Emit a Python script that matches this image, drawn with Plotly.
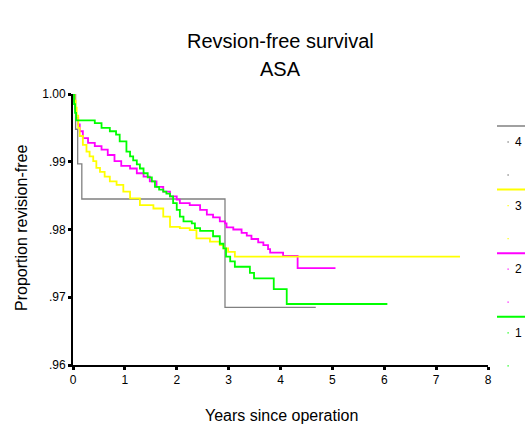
import plotly.graph_objects as go

# Kaplan-Meier revision-free survival by ASA grade (step points: time in years, survival)
asa4_t = [0, 0.05, 0.09, 0.17, 2.93, 4.68]
asa4_s = [1.0, 0.9948, 0.9897, 0.9845, 0.9685, 0.9685]

asa3_t = [0, 0.03, 0.05, 0.07, 0.10, 0.13, 0.19, 0.26, 0.32, 0.39, 0.45, 0.52, 0.61,
          0.71, 0.84, 0.97, 1.10, 1.29, 1.55, 1.74, 1.87, 2.06, 2.25, 2.38, 2.64,
          2.83, 2.90, 2.99, 3.12, 7.46]
asa3_s = [1.0, 0.9990, 0.9980, 0.9968, 0.9950, 0.9938, 0.9925, 0.9915, 0.9908, 0.9901,
          0.9891, 0.9885, 0.9878, 0.9871, 0.9866, 0.9856, 0.9846, 0.9836, 0.9831,
          0.9819, 0.9804, 0.9802, 0.9799, 0.9787, 0.9782, 0.9777, 0.9772, 0.9767,
          0.9760, 0.9760]

asa2_t = [0, 0.02, 0.04, 0.06, 0.10, 0.13, 0.19, 0.29, 0.42, 0.55, 0.67, 0.80, 0.93,
          1.10, 1.23, 1.36, 1.48, 1.61, 1.74, 1.87, 2.00, 2.06, 2.25, 2.45, 2.58,
          2.70, 2.83, 2.93, 2.96, 3.09, 3.25, 3.35, 3.44, 3.57, 3.67, 3.76, 3.80,
          4.05, 4.33, 5.06]
asa2_s = [1.0, 0.9990, 0.9978, 0.9965, 0.9955, 0.9945, 0.9935, 0.9928, 0.9923, 0.9918,
          0.9910, 0.9901, 0.9894, 0.9890, 0.9883, 0.9878, 0.9871, 0.9863, 0.9856,
          0.9849, 0.9844, 0.9839, 0.9836, 0.9829, 0.9822, 0.9818, 0.9812, 0.9809,
          0.9803, 0.9800, 0.9795, 0.9791, 0.9786, 0.9781, 0.9777, 0.9771, 0.9766,
          0.9761, 0.9743, 0.9743]

asa1_t = [0, 0.02, 0.04, 0.06, 0.42, 0.55, 0.71, 0.83, 0.90, 1.03, 1.10, 1.16, 1.23,
          1.29, 1.36, 1.44, 1.52, 1.58, 1.66, 1.74, 1.80, 1.87, 1.93, 2.00, 2.06,
          2.13, 2.29, 2.35, 2.45, 2.70, 2.83, 2.90, 2.95, 3.03, 3.12, 3.41, 3.49,
          3.87, 4.12, 6.06]
asa1_s = [1.0, 0.9985, 0.9972, 0.9961, 0.9957, 0.9950, 0.9945, 0.9940, 0.9930, 0.9915,
          0.9908, 0.9902, 0.9896, 0.9890, 0.9883, 0.9877, 0.9871, 0.9863, 0.9859,
          0.9856, 0.9853, 0.9849, 0.9839, 0.9829, 0.9819, 0.9812, 0.9809, 0.9802,
          0.9798, 0.9790, 0.9779, 0.9772, 0.9760, 0.9753, 0.9745, 0.9736, 0.9728,
          0.9712, 0.9690, 0.9690]

group_labels = ["4", "3", "2", "1"]
group_colors = ["#808080", "#FFFF00", "#FF00FF", "#00FF00"]

x_tick_vals = [0, 1, 2, 3, 4, 5, 6, 7, 8]
y_tick_vals = [0.96, 0.97, 0.98, 0.99, 1.00]
y_tick_text = [".96", ".97", ".98", ".99", "1.00"]

FONT = "Liberation Sans, Arial, sans-serif"
W, H = 525, 426
ML, MR, MT, MB = 73, 37, 94, 61
PW, PH = W - ML - MR, H - MT - MB


def px_x(px):
    return (px - ML) / PW


def px_y(py):
    return (H - MB - py) / PH


series = {
    "4": (asa4_t, asa4_s, 1.3),
    "3": (asa3_t, asa3_s, 1.8),
    "2": (asa2_t, asa2_s, 1.8),
    "1": (asa1_t, asa1_s, 1.8),
}

fig = go.Figure()
for lab in ["4", "2", "3", "1"]:
    t, s, w = series[lab]
    col = group_colors[group_labels.index(lab)]
    fig.add_trace(go.Scatter(x=t, y=s, mode="lines", line=dict(color=col, width=w, shape="hv"),
                             name=lab, showlegend=False, hoverinfo="skip"))

# side key: coloured rule, label, and small point marks per group
shapes = []
annotations = []
for i, (lab, col) in enumerate(zip(group_labels, group_colors)):
    y0 = 126 + i * 63.6
    shapes.append(dict(type="line", xref="paper", yref="paper",
                       x0=px_x(497), x1=px_x(530), y0=px_y(y0), y1=px_y(y0),
                       line=dict(color=col, width=2 if i else 1.3)))
    for dy in (16, 49):
        shapes.append(dict(type="rect", xref="paper", yref="paper",
                           x0=px_x(507.5), x1=px_x(508.7), y0=px_y(y0 + dy - 0.6), y1=px_y(y0 + dy + 0.6),
                           line=dict(width=0), fillcolor=col if i else "#404040"))
    annotations.append(dict(text=lab, xref="paper", yref="paper", x=px_x(524), y=px_y(y0 + 16),
                            xanchor="right", yanchor="middle", showarrow=False,
                            font=dict(family=FONT, size=12, color="#000")))

annotations += [
    dict(text="Revsion-free survival", xref="paper", yref="paper", x=0.5, y=px_y(41),
         xanchor="center", yanchor="middle", showarrow=False,
         font=dict(family=FONT, size=20, color="#000")),
    dict(text="ASA", xref="paper", yref="paper", x=0.5, y=px_y(69),
         xanchor="center", yanchor="middle", showarrow=False,
         font=dict(family=FONT, size=20, color="#000")),
    dict(text="Years since operation", xref="paper", yref="paper", x=px_x(281), y=px_y(415),
         xanchor="center", yanchor="middle", showarrow=False,
         font=dict(family=FONT, size=16, color="#000")),
    dict(text="Proportion revision-free", xref="paper", yref="paper", x=px_x(21), y=px_y(228),
         xanchor="center", yanchor="middle", showarrow=False, textangle=-90,
         font=dict(family=FONT, size=16, color="#000")),
]

fig.update_layout(
    width=W, height=H,
    margin=dict(l=ML, r=MR, t=MT, b=MB, pad=0),
    paper_bgcolor="white", plot_bgcolor="white",
    font=dict(family=FONT, size=12, color="#000"),
    shapes=shapes, annotations=annotations,
    xaxis=dict(range=[0, 8], tickvals=x_tick_vals, ticks="outside", ticklen=3, tickwidth=3,
               tickcolor="#000", showline=True, linecolor="#000", linewidth=1.5,
               showgrid=False, zeroline=False, tickfont=dict(size=12, family=FONT)),
    yaxis=dict(range=[0.96, 1.0], tickvals=y_tick_vals, ticktext=y_tick_text, ticks="outside",
               ticklen=3, tickwidth=3, tickcolor="#000", showline=True, linecolor="#000",
               linewidth=2, showgrid=False, zeroline=False, tickfont=dict(size=12, family=FONT)),
)

fig.write_html("out.html")
